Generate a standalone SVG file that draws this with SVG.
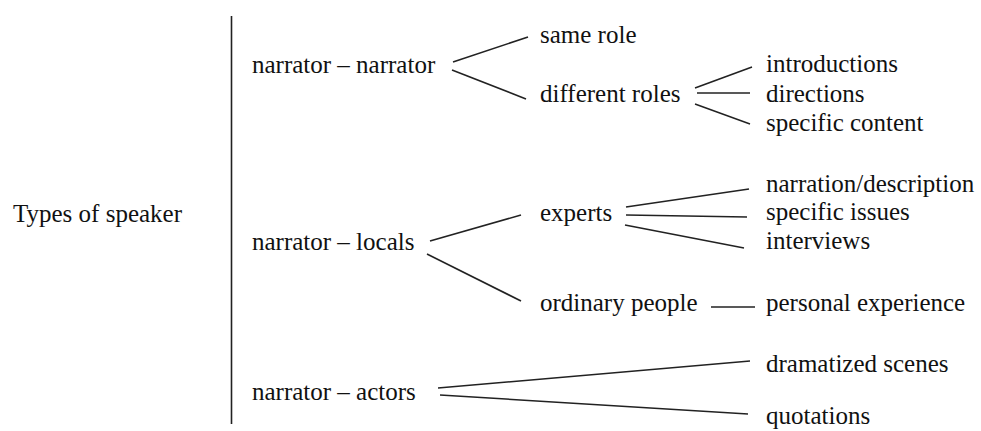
<svg xmlns="http://www.w3.org/2000/svg" width="981" height="431" viewBox="0 0 981 431">
<style>
.t text{font-size:25px;fill:#111}
.c line{stroke:#222;stroke-width:1.6;stroke-linecap:butt}
</style>
<rect width="981" height="431" fill="#fff"/>
<g class="c" id="connectors">
<line x1="231.5" y1="16" x2="231.5" y2="424"/>
<line x1="453" y1="62" x2="528" y2="37"/>
<line x1="452" y1="70" x2="526" y2="99"/>
<line x1="695" y1="88" x2="752" y2="67"/>
<line x1="697" y1="93" x2="750" y2="93"/>
<line x1="695" y1="104" x2="750" y2="124"/>
<line x1="430" y1="241" x2="521" y2="215"/>
<line x1="427" y1="254" x2="521" y2="301"/>
<line x1="626" y1="207" x2="749" y2="189"/>
<line x1="626" y1="215" x2="747" y2="217"/>
<line x1="625" y1="225" x2="744" y2="248"/>
<line x1="711" y1="307" x2="755" y2="307"/>
<line x1="438" y1="388" x2="750" y2="361"/>
<line x1="440" y1="395" x2="748" y2="414"/>
</g>
<g class="t" font-family="'Liberation Serif', 'DejaVu Serif', serif">
<g id="root"><text x="13" y="222">Types of speaker</text></g>
<g id="nn"><text x="252" y="73">narrator – narrator</text></g>
<g id="same"><text x="540" y="43">same role</text></g>
<g id="diff"><text x="540" y="102">different roles</text></g>
<g id="intro"><text x="766" y="72">introductions</text></g>
<g id="dir"><text x="766" y="102">directions</text></g>
<g id="spec"><text x="766" y="131">specific content</text></g>
<g id="nl"><text x="252" y="250">narrator – locals</text></g>
<g id="experts"><text x="540" y="221">experts</text></g>
<g id="ordinary"><text x="540" y="311">ordinary people</text></g>
<g id="narr"><text x="766" y="192">narration/description</text></g>
<g id="issues"><text x="766" y="220">specific issues</text></g>
<g id="interviews"><text x="766" y="249">interviews</text></g>
<g id="personal"><text x="766" y="311">personal experience</text></g>
<g id="na"><text x="252" y="400">narrator – actors</text></g>
<g id="dram"><text x="766" y="372">dramatized scenes</text></g>
<g id="quot"><text x="766" y="424">quotations</text></g>
</g>
</svg>
